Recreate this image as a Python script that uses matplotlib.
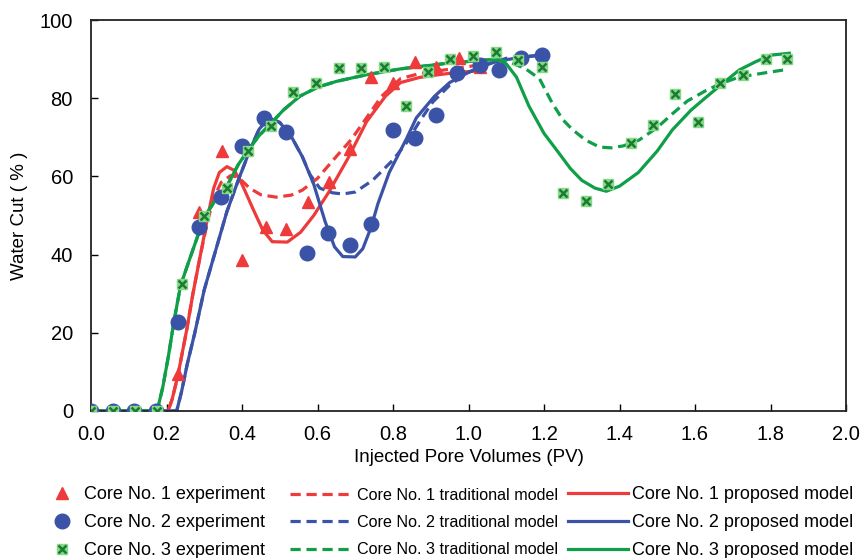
import matplotlib
matplotlib.use("Agg")
import matplotlib.pyplot as plt
from matplotlib import font_manager

plt.rcParams['font.family'] = ['Liberation Sans', 'DejaVu Sans']

# ---- experiment data ----
exp1_x = [0, 0.057, 0.115, 0.172, 0.23, 0.287, 0.347, 0.40, 0.463, 0.516, 0.574, 0.63, 0.687, 0.743, 0.80, 0.857, 0.915, 0.974, 1.03]
exp1_y = [0, 0, 0, 0, 9.5, 51, 66.5, 38.5, 47, 46.5, 53.5, 58.5, 67, 85.3, 84, 89.3, 88, 90.2, 88]

exp2_x = [0, 0.057, 0.115, 0.172, 0.23, 0.287, 0.345, 0.40, 0.457, 0.516, 0.572, 0.628, 0.686, 0.742, 0.80, 0.857, 0.913, 0.969, 1.03, 1.082, 1.14, 1.196]
exp2_y = [0, 0, 0, 0, 22.8, 47, 54.8, 67.7, 75, 71.4, 40.4, 45.5, 42.4, 47.7, 71.8, 69.8, 75.7, 86.4, 88.5, 87.2, 90.2, 91]

exp3_x = [0, 0.058, 0.117, 0.175, 0.24, 0.30, 0.36, 0.417, 0.476, 0.536, 0.596, 0.656, 0.716, 0.775, 0.835, 0.893, 0.952, 1.013, 1.073, 1.13, 1.195, 1.25, 1.31, 1.37, 1.43, 1.49, 1.548, 1.608, 1.667, 1.727, 1.788, 1.844]
exp3_y = [0, 0, 0, 0, 32.6, 49.8, 57, 66.4, 73, 81.6, 83.9, 87.7, 87.7, 88.1, 78, 86.7, 89.9, 90.9, 91.8, 89.8, 87.9, 55.8, 53.8, 58, 68.6, 73.2, 81.2, 73.8, 84, 86, 90, 90]

# ---- traditional model (dashed) ----
trad1_x = [0, 0.204, 0.215, 0.23, 0.254, 0.27, 0.29, 0.31, 0.325, 0.345, 0.37, 0.39, 0.42, 0.45, 0.49, 0.53, 0.56, 0.60, 0.64, 0.69, 0.73, 0.77, 0.82, 0.87, 0.92, 0.97, 1.03]
trad1_y = [0, 0, 3, 9, 21, 30, 40, 49, 54.5, 58.5, 60.2, 59.8, 57, 55.3, 54.7, 55.2, 56.5, 59.5, 64, 69.5, 75, 80.5, 85, 86.3, 87, 87.7, 88.5]

trad2_x = [0, 0.227, 0.24, 0.255, 0.275, 0.30, 0.333, 0.36, 0.39, 0.42, 0.445, 0.47, 0.50, 0.53, 0.56, 0.58, 0.606, 0.64, 0.667, 0.70, 0.746, 0.80, 0.835, 0.87, 0.905, 0.95, 0.995, 1.05, 1.10, 1.19]
trad2_y = [0, 0, 5, 12, 20, 31, 42, 51, 59, 66.5, 72, 75, 73.8, 70.3, 65, 60.5, 57, 55.8, 55.5, 56, 59, 64.2, 68.5, 74, 79, 83.3, 86.4, 88.6, 90.2, 91]

trad3_x = [0, 0.175, 0.19, 0.205, 0.22, 0.237, 0.26, 0.28, 0.30, 0.33, 0.36, 0.39, 0.418, 0.446, 0.476, 0.51, 0.553, 0.60, 0.65, 0.73, 0.82, 0.95, 1.05, 1.08, 1.11, 1.15, 1.188, 1.222, 1.25, 1.275, 1.31, 1.347, 1.378, 1.41, 1.452, 1.50, 1.54, 1.58, 1.63, 1.67, 1.717, 1.78, 1.84]
trad3_y = [0, 0, 6, 14, 23, 32, 38.5, 44, 49.5, 54, 57.5, 63, 67, 70.5, 73.5, 77, 80.5, 82.8, 84.3, 86, 87.5, 89, 89.8, 89.8, 89.2, 87.6, 85, 78.7, 74.5, 72, 69.3, 67.5, 67.3, 67.8, 69.3, 72.5, 76, 79.3, 82, 83.8, 85.4, 86.4, 87.3]

# ---- proposed model (solid) ----
prop1_x = [0, 0.204, 0.215, 0.23, 0.254, 0.27, 0.29, 0.31, 0.325, 0.34, 0.36, 0.38, 0.40, 0.43, 0.455, 0.48, 0.52, 0.555, 0.59, 0.63, 0.68, 0.73, 0.78, 0.82, 0.87, 0.92, 0.97, 1.03]
prop1_y = [0, 0, 3, 9, 21, 30, 40, 50, 57, 61, 62.5, 61.5, 58, 51.5, 46.3, 43.3, 43.2, 45.7, 50, 56, 64.5, 74, 80.5, 84, 85.3, 86, 86.6, 87]

prop2_x = [0, 0.227, 0.24, 0.255, 0.275, 0.30, 0.333, 0.36, 0.39, 0.42, 0.445, 0.47, 0.50, 0.53, 0.56, 0.59, 0.62, 0.645, 0.667, 0.70, 0.72, 0.742, 0.76, 0.79, 0.835, 0.862, 0.91, 0.95, 1.0, 1.04, 1.09, 1.13, 1.19]
prop2_y = [0, 0, 5, 12, 20, 31, 42, 51, 59, 66.5, 72, 75, 73.8, 70.3, 65, 58, 48.5, 42, 39.5, 39.4, 41.5, 47, 53, 61, 69.5, 75, 80.5, 84, 86.6, 88.5, 89.7, 90.3, 91]

prop3_x = [0, 0.175, 0.19, 0.205, 0.22, 0.237, 0.26, 0.28, 0.30, 0.33, 0.36, 0.39, 0.418, 0.446, 0.476, 0.51, 0.553, 0.60, 0.65, 0.73, 0.82, 0.95, 1.05, 1.08, 1.10, 1.127, 1.16, 1.20, 1.233, 1.27, 1.30, 1.335, 1.365, 1.40, 1.45, 1.50, 1.54, 1.59, 1.63, 1.68, 1.717, 1.76, 1.80, 1.85]
prop3_y = [0, 0, 6, 14, 23, 32, 38.5, 44, 49.5, 54, 57.5, 63, 67, 70.5, 73.5, 77, 80.5, 82.8, 84.3, 86, 87.5, 89, 89.8, 89.8, 88.8, 85.4, 78, 71, 66.8, 62, 59, 57, 56.2, 57.5, 61, 66.5, 71.9, 77, 80.3, 84.3, 87.2, 89.3, 91, 91.5]

x_ticks = [0.0, 0.2, 0.4, 0.6, 0.8, 1.0, 1.2, 1.4, 1.6, 1.8, 2.0]
y_ticks = [0, 20, 40, 60, 80, 100]

RED = '#ee3a3a'
BLUE = '#3b53a6'
GREEN = '#0e9f48'
LGREEN = '#86d986'
DGREEN = '#1c7a34'
LW = 2.3
DASH = [3.2, 1.8]

fig = plt.figure(figsize=(8.61, 5.58), dpi=100)
ax = fig.add_axes([91/861, 1 - 411/558, (846 - 91)/861, (411 - 20)/558])

t1, = ax.plot(trad1_x, trad1_y, color=RED, lw=LW, dashes=DASH, zorder=2)
p1, = ax.plot(prop1_x, prop1_y, color=RED, lw=LW, zorder=2)
t2, = ax.plot(trad2_x, trad2_y, color=BLUE, lw=LW, dashes=DASH, zorder=2.1)
p2, = ax.plot(prop2_x, prop2_y, color=BLUE, lw=LW, zorder=2.1)
t3, = ax.plot(trad3_x, trad3_y, color=GREEN, lw=LW, dashes=DASH, zorder=2.2)
p3, = ax.plot(prop3_x, prop3_y, color=GREEN, lw=LW, zorder=2.2)

e1, = ax.plot(exp1_x, exp1_y, ls='none', marker='^', ms=9, color=RED, mec=RED, zorder=3)
e2, = ax.plot(exp2_x, exp2_y, ls='none', marker='o', ms=10.5, color=BLUE, mec=BLUE, zorder=3.1)
e3a, = ax.plot(exp3_x, exp3_y, ls='none', marker='s', ms=7.5, color=LGREEN, mec=LGREEN, zorder=3.2)
e3b, = ax.plot(exp3_x, exp3_y, ls='none', marker='x', ms=5.5, mew=1.8, color=DGREEN, zorder=3.3)

ax.set_xlim(0, 2.0)
ax.set_ylim(0, 100)
ax.set_xticks(x_ticks)
ax.set_xticklabels([f'{v:.1f}' for v in x_ticks])
ax.set_yticks(y_ticks)
ax.tick_params(direction='in', length=5, width=1, labelsize=14.5, colors='black')
ax.tick_params(axis='x', pad=10)
ax.tick_params(axis='y', pad=13)
for s in ax.spines.values():
    s.set_linewidth(1.3)
    s.set_color('#222222')
ax.set_xlabel('Injected Pore Volumes (PV)', fontsize=13.5, labelpad=4)
ax.set_ylabel('Water Cut ( % )', fontsize=13.5, labelpad=8)

# column 2 text in the reference is condensed
names = {f.name for f in font_manager.fontManager.ttflist}
if 'Liberation Sans Narrow' in names:
    col2_font = {'family': 'Liberation Sans Narrow', 'size': 14.5}
    col2_ls = 0.5
else:
    col2_font = {'family': 'Liberation Sans', 'size': 11.6}
    col2_ls = 0.76

fs = 13
yc = 1 - 522.5/558
common = dict(loc='center left', frameon=False, borderpad=0, borderaxespad=0)
fig.legend([e1, e2, (e3a, e3b)],
           ['Core No. 1 experiment', 'Core No. 2 experiment', 'Core No. 3 experiment'],
           bbox_to_anchor=(51/861, yc), fontsize=fs, labelspacing=0.6,
           handlelength=1.2, handletextpad=0.65, **common)
fig.legend([t1, t2, t3],
           ['Core No. 1 traditional model', 'Core No. 2 traditional model', 'Core No. 3 traditional model'],
           bbox_to_anchor=(290/861, yc), prop=col2_font, labelspacing=col2_ls,
           handlelength=62/(col2_font['size']*100/72), handletextpad=0.3, **common)
fig.legend([p1, p2, p3],
           ['Core No. 1 proposed model', 'Core No. 2 proposed model', 'Core No. 3 proposed model'],
           bbox_to_anchor=(568/861, yc), fontsize=fs, labelspacing=0.6,
           handlelength=3.3, handletextpad=0.25, **common)

fig.savefig('out.png', dpi=100)
